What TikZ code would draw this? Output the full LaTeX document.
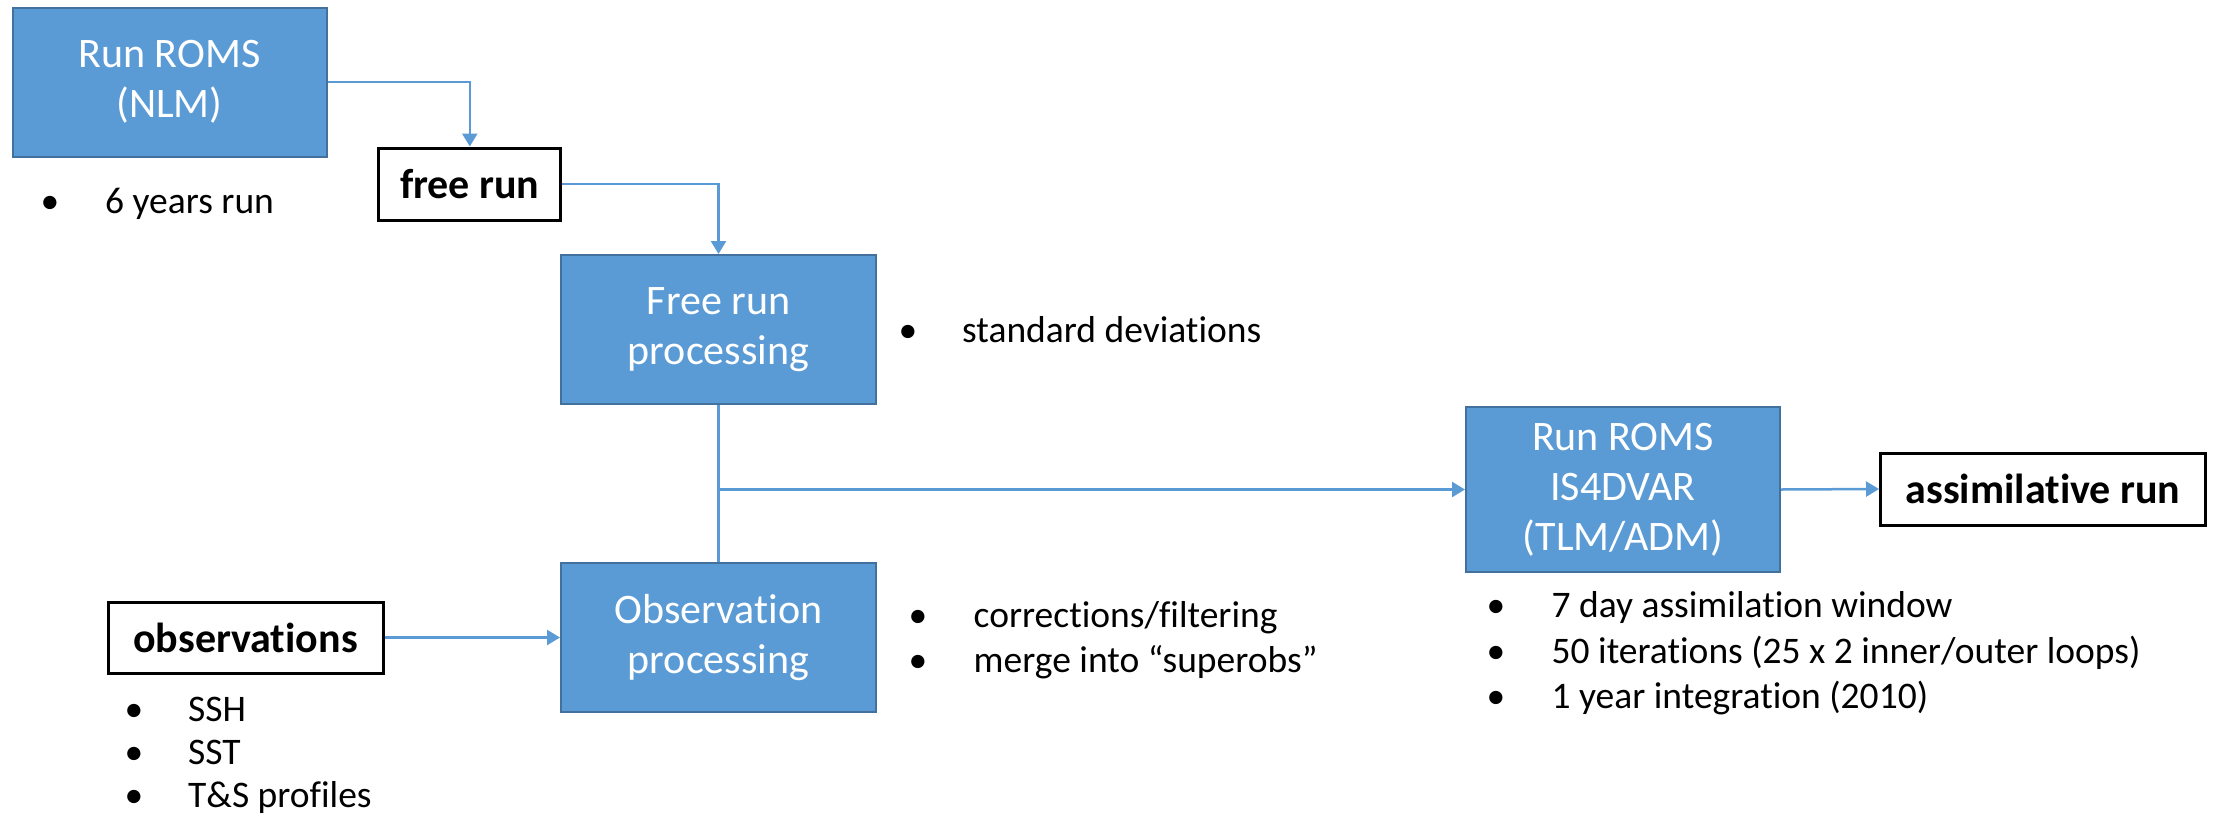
\documentclass[tikz,border=0pt]{standalone}
\usepackage{fontspec}
\setmainfont{Carlito}[Ligatures=NoCommon]
\usetikzlibrary{arrows.meta}
\definecolor{boxblue}{HTML}{5B9BD5}
\definecolor{boxedge}{HTML}{41719C}
\tikzset{
  bluebox/.style={draw=boxedge, line width=2pt, fill=boxblue, text=white, align=center,
    font=\fontsize{42}{50}\selectfont, inner sep=0pt},
  labelbox/.style={draw=black, line width=3pt, fill=white, align=center,
    font=\fontsize{42}{50}\selectfont\bfseries, inner sep=0pt},
  conn/.style={draw=boxblue, line width=2.5pt},
  arr/.style={conn, -{Triangle[length=13pt,width=15pt]}},
  bul/.style={anchor=base, font=\fontsize{37.5}{45}\selectfont, inner sep=0pt},
  btext/.style={anchor=base west, font=\fontsize{37.5}{45}\selectfont, inner sep=0pt},
}
\begin{document}
\begin{tikzpicture}[x=1pt,y=-1pt]
\useasboundingbox (0,0) rectangle (2219,817);
% boxes
\node[bluebox, minimum width=314pt, minimum height=149pt] (run) at (169.5,82) {Run ROMS\\(NLM)};
\node[labelbox, minimum width=182pt, minimum height=72pt] (free) at (469.8,184) {free run};
\node[bluebox, minimum width=315pt, minimum height=149pt] (frp) at (718.5,329.5) {Free run\\processing};
\node[bluebox, minimum width=315pt, minimum height=149pt] (obp) at (718.5,637.5) {Observation\\processing};
\node[labelbox, minimum width=275pt, minimum height=71pt] (obs) at (245.5,637.5) {observations};
\node[bluebox, minimum width=314pt, minimum height=165pt] (is4) at (1623,489.5) {Run ROMS\\IS4DVAR\\(TLM/ADM)};
\node[labelbox, minimum width=325pt, minimum height=72pt] (asm) at (2043,489) {assimilative run};
% connectors
\draw[arr] (run.east) -| (free.north);
\draw[arr] (free.east) -| (frp.north);
\draw[conn] (frp.south) -- (obp.north);
\coordinate (j) at (frp.south |- is4.west);
\draw[arr] (j) -- (is4.west);
\draw[arr] (obs.east) -- (obp.west);
\draw[arr] (is4.east) -- (asm.west);
% bullet lists
\node[bul] (b1) at (50,213) {•};
\node[btext] (t1) at (105,213) {6 years run};
\node[bul] (b2) at (908,342) {•};
\node[btext] (t2) at (962,342) {standard deviations};
\node[bul] (b3) at (918,627) {•};
\node[btext] (t3) at (973.5,627) {corrections/filtering};
\node[bul] (b4) at (918,672) {•};
\node[btext] (t4) at (973.5,672) {merge into “superobs”};
\node[bul] (b5) at (134,721) {•};
\node[btext] (t5) at (188,721) {SSH};
\node[bul] (b6) at (134,764) {•};
\node[btext] (t6) at (188,764) {SST};
\node[bul] (b7) at (134,807) {•};
\node[btext] (t7) at (188,807) {T\&S profiles};
\node[bul] (b8) at (1496,617) {•};
\node[btext] (t8) at (1551.5,617) {7 day assimilation window};
\node[bul] (b9) at (1496,663) {•};
\node[btext] (t9) at (1551.5,663) {50 iterations (25 x 2 inner/outer loops)};
\node[bul] (b10) at (1496,708) {•};
\node[btext] (t10) at (1551.5,708) {1 year integration (2010)};
\end{tikzpicture}
\end{document}
